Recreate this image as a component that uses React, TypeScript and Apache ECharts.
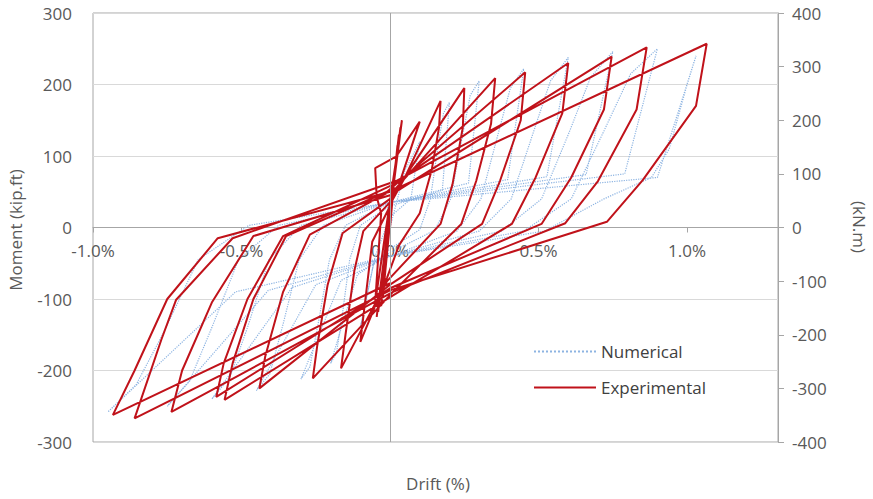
import React, { useEffect, useRef } from 'react';
import * as echarts from 'echarts';

// ---- Experimental (red) hysteresis, drift (%) vs moment (kip.ft) ----
const expElastic = [[0, 0], [0.02, 95], [-0.025, -100], [0.025, 115], [-0.03, -110], [0.03, 130], [-0.04, -118], [0.035, 140], [-0.045, -125], [0.04, 150], [-0.05, -105]];
const expCycle3 = [[-0.03, 20], [-0.045, 43], [-0.05, 83], [0.02, 99], [0.10, 148], [0.03, 60], [0.0, 30], [-0.06, -20], [-0.08, -90], [-0.10, -160]];
const expCycle4 = [[-0.01, -70], [0.03, -25], [0.10, 20], [0.14, 80], [0.165, 140], [0.17, 177], [0.05, 70], [0.01, 40], [-0.09, -5], [-0.12, -60], [-0.15, -150], [-0.165, -197]];
const expCycle5 = [[-0.01, -75], [0.17, 5], [0.21, 60], [0.245, 140], [0.25, 195], [0.0, 40], [-0.16, -8], [-0.21, -80], [-0.245, -165], [-0.26, -211]];
const expCycle6 = [[0.01, -90], [0.24, 5], [0.29, 65], [0.34, 145], [0.354, 209], [0.02, 55], [-0.27, -10], [-0.36, -90], [-0.42, -180], [-0.44, -225]];
const expCycle7 = [[0.0, -80], [0.31, 5], [0.37, 65], [0.44, 150], [0.455, 217], [-0.01, 50], [-0.35, -12], [-0.46, -100], [-0.53, -190], [-0.557, -241]];
const expCycle8 = [[0.01, -95], [0.41, 5], [0.49, 70], [0.58, 160], [0.60, 230], [0.01, 60], [-0.36, -12], [-0.48, -100], [-0.56, -190], [-0.585, -237]];
const expCycle9 = [[0.0, -85], [0.51, 5], [0.61, 70], [0.72, 165], [0.746, 239], [0.0, 45], [-0.46, -12], [-0.6, -105], [-0.7, -200], [-0.736, -258]];
const expCycle10 = [[0.01, -90], [0.59, 6], [0.70, 65], [0.83, 165], [0.864, 252], [0.02, 65], [-0.53, -15], [-0.72, -101], [-0.77, -157], [-0.86, -267]];
const expCycle11 = [[0.0, -88], [0.73, 8], [0.85, 66], [1.03, 170], [1.066, 257], [0.0, 50], [-0.58, -15], [-0.75, -100], [-0.86, -200], [-0.933, -262], [0.0, -78]];

// ---- Numerical (blue dotted) hysteresis ----
const numCycle0 = [[0, 0], [0.05, 80], [0.1, 120], [0.07, 40], [0, 15], [-0.05, -40], [-0.1, -140]];
const numCycle1 = [[-0.055, -50], [0, -30], [0.1, -3], [0.136, 40], [0.16, 110], [0.18, 160], [0.2, 175], [0.176, 52], [0, 30], [-0.1, 3], [-0.136, -45], [-0.16, -120], [-0.18, -175], [-0.2, -190]];
const numCycle2 = [[-0.11, -66], [0, -35], [0.15, -4], [0.204, 40], [0.24, 120], [0.27, 185], [0.3, 205], [0.264, 62], [0, 35], [-0.15, 3], [-0.204, -45], [-0.24, -130], [-0.27, -195], [-0.3, -212]];
const numCycle3 = [[-0.165, -74], [0, -40], [0.225, -5], [0.306, 40], [0.36, 125], [0.405, 195], [0.45, 222], [0.396, 67], [0, 35], [-0.225, 3], [-0.306, -45], [-0.36, -135], [-0.405, -205], [-0.45, -228]];
const numCycle4 = [[-0.25, -80], [0, -40], [0.3, -5], [0.408, 40], [0.48, 130], [0.54, 205], [0.6, 238], [0.528, 71], [0, 35], [-0.3, 3], [-0.408, -45], [-0.48, -140], [-0.54, -210], [-0.6, -240]];
const numCycle5 = [[-0.33, -84], [0, -40], [0.375, -5], [0.51, 40], [0.6, 130], [0.675, 210], [0.75, 246], [0.66, 74], [0, 35], [-0.375, 3], [-0.51, -45], [-0.6, -140], [-0.675, -215], [-0.75, -250]];
const numCycle6 = [[-0.41, -88], [0, -40], [0.45, -5], [0.61, 40], [0.72, 135], [0.81, 215], [0.9, 250], [0.79, 75], [0, 35], [-0.475, 3], [-0.646, -45], [-0.76, -145], [-0.855, -220], [-0.95, -258]];
const numCycle7 = [[-0.52, -90], [0, -40], [0.52, -5], [0.72, 40], [0.88, 70], [0.94, 110], [1.0, 200], [1.03, 240], [0.9, 70], [0, 35]];

const leftTicks = { min: -300, max: 300, interval: 100 };
const rightTicks = { min: -400, max: 400, interval: 100 };
const driftTicks = { min: -1.0, max: 1.306, interval: 0.5 };

const experimental = [
  ...expElastic, ...expCycle3, ...expCycle4, ...expCycle5, ...expCycle6, ...expCycle7,
  ...expCycle8, ...expCycle9, ...expCycle10, ...expCycle11,
];
const numerical = [
  ...numCycle0, ...numCycle1, ...numCycle2, ...numCycle3, ...numCycle4, ...numCycle5, ...numCycle6, ...numCycle7,
];

const FONT = 'Open Sans';
const LABEL = '#595959';
const RED = '#C0121A';
const BLUE = '#8DB4E2';
const GRID_TOP = 13;
const GRID_BOTTOM = 57;
const CHART_H = 499;

export default function App() {
  const ref = useRef<HTMLDivElement>(null);
  useEffect(() => {
    if (!ref.current) return;
    const chart = echarts.init(ref.current, null, { renderer: 'svg' });
    const plotH = CHART_H - GRID_TOP - GRID_BOTTOM;
    chart.setOption({
      animation: false,
      textStyle: { fontFamily: FONT },
      grid: { left: 93, right: 95, top: GRID_TOP, bottom: GRID_BOTTOM, show: true, borderColor: '#a6a6a6', borderWidth: 1 },
      xAxis: {
        type: 'value',
        min: driftTicks.min,
        max: driftTicks.max,
        interval: driftTicks.interval,
        position: 'bottom',
        offset: -plotH / 2,
        axisLine: { show: true, onZero: false, lineStyle: { color: '#a6a6a6' } },
        axisTick: { show: true, length: 5, lineStyle: { color: '#a6a6a6' } },
        axisLabel: {
          margin: 14,
          fontSize: 17,
          color: LABEL,
          fontFamily: FONT,
          formatter: (v: number) => {
            const r = v / 0.5;
            return Math.abs(r - Math.round(r)) < 1e-6 ? v.toFixed(1) + '%' : '';
          },
        },
        splitLine: { show: false },
      },
      yAxis: [
        {
          type: 'value',
          position: 'left',
          ...leftTicks,
          axisLine: { show: false, onZero: false },
          axisTick: { show: false },
          axisLabel: { margin: 21, fontSize: 17, color: LABEL, fontFamily: FONT },
          splitLine: { show: true, lineStyle: { color: '#d9d9d9', width: 1 } },
        },
        {
          type: 'value',
          position: 'right',
          ...rightTicks,
          axisLine: { show: true, onZero: false, lineStyle: { color: '#a6a6a6' } },
          axisTick: { show: true, length: 6, lineStyle: { color: '#a6a6a6' } },
          axisLabel: { margin: 14, fontSize: 17, color: LABEL, fontFamily: FONT },
          splitLine: { show: false },
        },
      ],
      legend: {
        data: ['Numerical', 'Experimental'],
        orient: 'vertical',
        left: 533,
        top: 343,
        itemWidth: 62,
        itemHeight: 14,
        itemGap: 19,
        padding: 0,
        itemStyle: { opacity: 0 },
        textStyle: { fontSize: 17, color: '#404040', fontFamily: FONT },
      },
      graphic: [
        {
          type: 'text',
          x: 15,
          y: 230,
          rotation: Math.PI / 2,
          style: { text: 'Moment (kip.ft)', align: 'center', verticalAlign: 'middle', fontSize: 17, fill: LABEL, fontFamily: FONT },
        },
        {
          type: 'text',
          x: 859,
          y: 227,
          rotation: -Math.PI / 2,
          style: { text: '(kN.m)', align: 'center', verticalAlign: 'middle', fontSize: 17, fill: LABEL, fontFamily: FONT },
        },
        {
          type: 'text',
          x: 438,
          y: 483,
          style: { text: 'Drift (%)', align: 'center', verticalAlign: 'middle', fontSize: 17, fill: LABEL, fontFamily: FONT },
        },
      ],
      series: [
        {
          name: 'Numerical',
          type: 'line',
          data: numerical,
          symbol: 'none',
          showSymbol: false,
          itemStyle: { color: BLUE },
          lineStyle: { color: BLUE, width: 1.2, type: 'dotted' },
          markLine: {
            silent: true,
            symbol: 'none',
            label: { show: false },
            lineStyle: { color: '#a6a6a6', type: 'solid', width: 1 },
            data: [{ xAxis: 0 }],
          },
        },
        {
          name: 'Experimental',
          type: 'line',
          data: experimental,
          symbol: 'none',
          showSymbol: false,
          itemStyle: { color: RED },
          lineStyle: { color: RED, width: 2 },
        },
      ],
    });
    return () => chart.dispose();
  }, []);
  return <div ref={ref} style={{ position: 'absolute', left: 0, top: 0, width: 873, height: 499 }} />;
}
